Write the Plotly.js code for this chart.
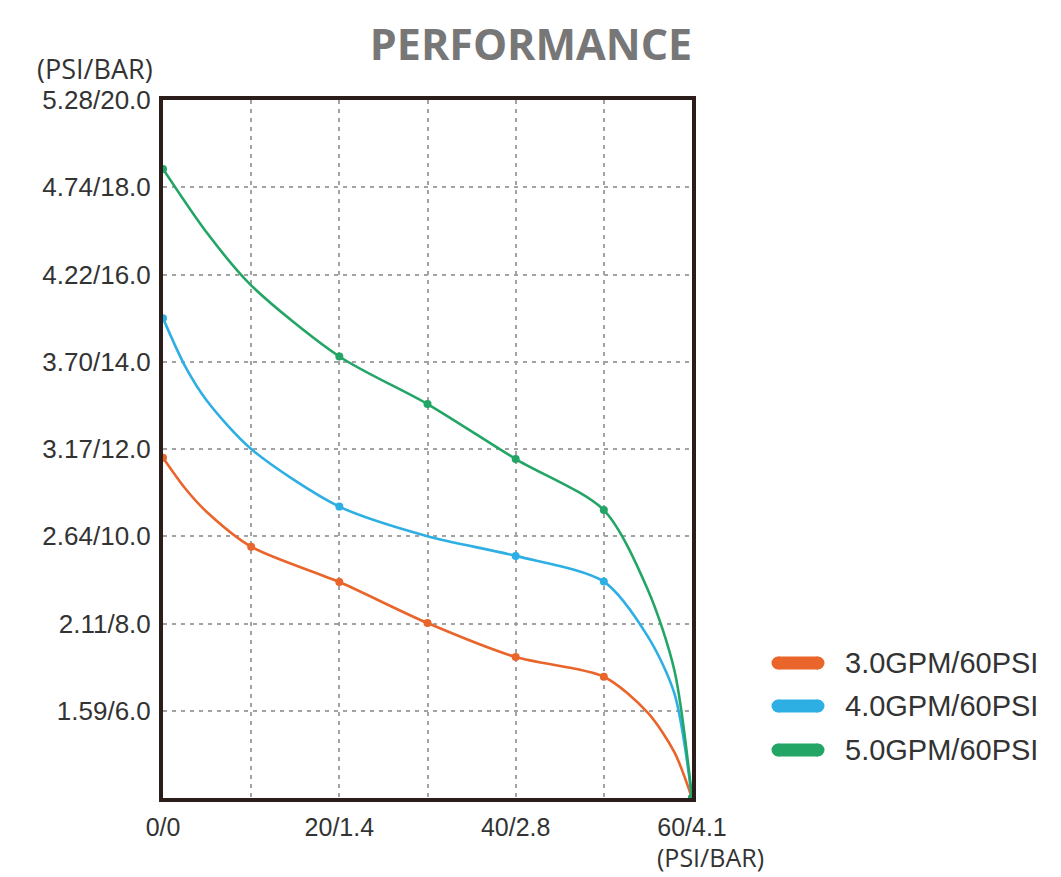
<!DOCTYPE html>
<html>
<head>
<meta charset="utf-8">
<script src="https://cdn.plot.ly/plotly-3.0.1.min.js"></script>
<style>html,body{margin:0;padding:0;background:#fff;}#chart{width:1061px;height:877px;}</style>
</head>
<body>
<div id="chart"></div>
<script>
// X: inlet pressure (PSI), Y: flow/pressure scale (BAR values)
const xTickVals = [0, 10, 20, 30, 40, 50, 60];
const xTickText = ['0/0', '', '20/1.4', '', '40/2.8', '', '60/4.1'];
const yTickVals = [6, 8, 10, 12, 14, 16, 18, 20];
const yTickText = ['1.59/6.0', '2.11/8.0', '2.64/10.0', '3.17/12.0', '3.70/14.0', '4.22/16.0', '4.74/18.0', '5.28/20.0'];

const seriesNames = ['3.0GPM/60PSI', '4.0GPM/60PSI', '5.0GPM/60PSI'];

// curve points
const orangeX = [0, 2.5, 5, 10, 20, 30, 40, 50, 55, 58, 60];
const orangeY = [11.8, 11.1, 10.55, 9.76, 8.95, 8.01, 7.23, 6.78, 5.95, 5.05, 4.0];
const orangeMarked = [0, 10, 20, 30, 40, 50, 60];

const blueX = [0, 2.5, 5, 10, 20, 30, 40, 50, 55, 58, 60];
const blueY = [15.0, 13.9, 13.1, 12.0, 10.68, 10.0, 9.55, 8.96, 7.7, 6.4, 4.0];
const blueMarked = [0, 20, 40, 50, 60];

const greenX = [0, 5, 10, 20, 30, 40, 50, 55, 58, 60];
const greenY = [18.42, 16.95, 15.75, 14.12, 13.03, 11.77, 10.6, 8.77, 6.93, 4.0];
const greenMarked = [0, 20, 30, 40, 50, 60];

const colors = ['#E9652B', '#2DAFE3', '#23A566'];

const allSeries = [
  [orangeX, orangeY, orangeMarked],
  [blueX, blueY, blueMarked],
  [greenX, greenY, greenMarked]
];

const traces = [];
allSeries.forEach(([xs, ys, marked], i) => {
  traces.push({
    type: 'scatter', mode: 'lines', x: xs, y: ys, name: seriesNames[i],
    line: {color: colors[i], width: 2.6, shape: 'spline', smoothing: 0.8},
    showlegend: false, hoverinfo: 'skip', cliponaxis: false
  });
  const mx = [], my = [];
  xs.forEach((x, k) => { if (marked.includes(x)) { mx.push(x); my.push(ys[k]); } });
  traces.push({
    type: 'scatter', mode: 'markers', x: mx, y: my, name: seriesNames[i],
    marker: {color: colors[i], size: 8}, showlegend: false, cliponaxis: false
  });
});

// plot area in pixels
const L = 163, R = 692, T = 100, B = 798;
const W = R - L, H = B - T;
const px = v => (v - L) / W;
const py = v => (B - v) / H;

const legendY = [663, 706, 750];
const shapes = [];
const annotations = [];
seriesNames.forEach((n, i) => {
  shapes.push({type: 'line', xref: 'paper', yref: 'paper', x0: px(778), x1: px(818), y0: py(legendY[i]), y1: py(legendY[i]),
    line: {color: colors[i], width: 13}});
  [778, 818].forEach(cx => {
    shapes.push({type: 'circle', xref: 'paper', yref: 'paper', xsizemode: 'pixel', ysizemode: 'pixel',
      xanchor: px(cx), yanchor: py(legendY[i]), x0: -6.5, x1: 6.5, y0: -6.5, y1: 6.5,
      fillcolor: colors[i], line: {width: 0}});
  });
  annotations.push({xref: 'paper', yref: 'paper', x: px(843), y: py(legendY[i]), xanchor: 'left', yanchor: 'middle',
    text: n, showarrow: false, font: {family: 'Liberation Sans, Arial, sans-serif', size: 29, color: '#333333'}});
});
annotations.push({xref: 'paper', yref: 'paper', x: px(95), y: py(68), xanchor: 'center', yanchor: 'middle',
  text: '(PSI/BAR)', showarrow: false, font: {family: 'Open Sans, sans-serif', size: 27, color: '#333333'}});
annotations.push({xref: 'paper', yref: 'paper', x: px(710), y: py(857), xanchor: 'center', yanchor: 'middle',
  text: '(PSI/BAR)', showarrow: false, font: {family: 'Open Sans, sans-serif', size: 25, color: '#333333'}});

const layout = {
  width: 1061, height: 877,
  margin: {l: L, r: 1061 - R, t: T, b: 877 - B, pad: 0},
  paper_bgcolor: '#ffffff', plot_bgcolor: '#ffffff',
  title: {text: '<b>PERFORMANCE</b>', x: 531 / 1061, xref: 'container', xanchor: 'center',
    y: 1 - 45 / 877, yref: 'container', yanchor: 'middle',
    font: {family: 'Open Sans, sans-serif', size: 43, color: '#777777'}},
  xaxis: {range: [0, 60], tickvals: xTickVals, ticktext: xTickText, showgrid: true,
    gridcolor: '#a3a3a3', gridwidth: 2, griddash: '4px,5px', zeroline: false,
    showline: true, mirror: true, linecolor: '#2b1d1a', linewidth: 4, ticks: '',
    ticklabelstandoff: 4, tickfont: {family: 'Liberation Sans, Arial, sans-serif', size: 25, color: '#333333'},
    fixedrange: true},
  yaxis: {range: [4, 20], tickvals: yTickVals, ticktext: yTickText, showgrid: true,
    gridcolor: '#a3a3a3', gridwidth: 2, griddash: '4px,5px', zeroline: false,
    showline: true, mirror: true, linecolor: '#2b1d1a', linewidth: 4, ticks: '',
    ticklabelstandoff: 3, tickfont: {family: 'Liberation Sans, Arial, sans-serif', size: 26, color: '#333333'},
    fixedrange: true},
  shapes: shapes,
  annotations: annotations,
  showlegend: false
};

Plotly.newPlot('chart', traces, layout, {displayModeBar: false, staticPlot: true});
</script>
</body>
</html>
